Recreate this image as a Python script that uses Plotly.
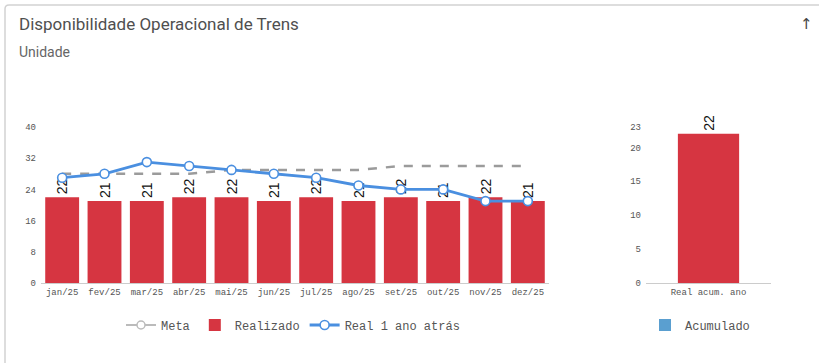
import plotly.graph_objects as go

# Monthly data
meses = ["jan/25", "fev/25", "mar/25", "abr/25", "mai/25", "jun/25",
         "jul/25", "ago/25", "set/25", "out/25", "nov/25", "dez/25"]
realizado = [22, 21, 21, 22, 22, 21, 22, 21, 22, 21, 22, 21]
meta = [28, 28, 28, 28, 29, 29, 29, 29, 30, 30, 30, 30]
real_ano_anterior = [27, 28, 31, 30, 29, 28, 27, 25, 24, 24, 21, 21]

# Year-to-date accumulated value
acum_categorias = ["Real acum. ano"]
acum_valores = [22]

# Axis ticks
ticks_mensal = [0, 8, 16, 24, 32, 40]
ticks_acum = [0, 5, 10, 15, 20, 23]

W, H = 819, 363
RED = "#d63541"
BLUE = "#4a8fe0"
GRAY = "#9b9b9b"
TXT = "#555555"
MONO = "Liberation Mono"


def px_x(v):
    return v / W


def px_y(v):
    return 1 - v / H


fig = go.Figure()

fig.add_trace(go.Bar(
    x=meses, y=realizado, name="Realizado", marker_color=RED, width=0.8,
    text=realizado, texttemplate="%{y:.0f}", textposition="outside",
    textangle=-90, cliponaxis=False,
    textfont=dict(family="Liberation Sans", size=14, color="#111111"),
    xaxis="x", yaxis="y", legend="legend", legendrank=2,
))

# Meta: dashed line, legend entry shown with a marker
fig.add_trace(go.Scatter(
    x=meses, y=meta, mode="lines", name="Meta", showlegend=False,
    line=dict(color=GRAY, width=2.5, dash="dash"),
    xaxis="x", yaxis="y", legendgroup="meta",
))
fig.add_trace(go.Scatter(
    x=[None], y=[None], mode="lines+markers", name="Meta",
    line=dict(color="#bbbbbb", width=2),
    marker=dict(size=8, color="white", line=dict(color="#bbbbbb", width=1.5)),
    xaxis="x", yaxis="y", legend="legend", legendgroup="meta", legendrank=1,
))

fig.add_trace(go.Scatter(
    x=meses, y=real_ano_anterior, mode="lines+markers", name="Real 1 ano atrás",
    line=dict(color=BLUE, width=2.8),
    marker=dict(size=9, color="white", line=dict(color=BLUE, width=1.6)),
    cliponaxis=False, xaxis="x", yaxis="y", legend="legend", legendrank=3,
))

fig.add_trace(go.Bar(
    x=acum_categorias, y=acum_valores, name="Acumulado", marker_color=RED,
    width=0.49, text=acum_valores, texttemplate="%{y:.0f}",
    textposition="outside", textangle=-90, cliponaxis=False,
    textfont=dict(family="Liberation Sans", size=14, color="#111111"),
    xaxis="x2", yaxis="y2", showlegend=False, legendgroup="acum",
))
fig.add_trace(go.Bar(
    x=[None], y=[None], name="Acumulado", marker_color="#5a9fd0",
    xaxis="x2", yaxis="y2", legend="legend2", legendgroup="acum",
))

y_dom = [px_y(283), px_y(127)]
tickfont = dict(family=MONO, size=9, color=TXT)
common_x = dict(showline=True, linecolor="#cccccc", linewidth=1,
                showgrid=False, zeroline=False, ticks="", tickfont=tickfont,
                fixedrange=True, automargin=False, type="category")
common_y = dict(showgrid=False, zeroline=False, showline=False, ticks="",
                tickfont=tickfont, fixedrange=True, automargin=False,
                ticklabelstandoff=4)

fig.update_layout(
    template="none",
    width=W, height=H,
    margin=dict(l=0, r=0, t=0, b=0, pad=0, autoexpand=False),
    paper_bgcolor="white", plot_bgcolor="white",
    barmode="overlay",
    showlegend=True,
    xaxis=dict(domain=[px_x(41), px_x(549)], anchor="y",
               range=[-0.5, len(meses) - 0.5], **common_x),
    yaxis=dict(domain=y_dom, anchor="x", range=[0, 40], tickvals=ticks_mensal,
               **common_y),
    xaxis2=dict(domain=[px_x(646), px_x(771)], anchor="y2",
                range=[-0.5, 0.5], **common_x),
    yaxis2=dict(domain=y_dom, anchor="x2", range=[0, 23], tickvals=ticks_acum,
                **common_y),
    legend=dict(orientation="h", x=px_x(293), y=px_y(325), xanchor="center",
                yanchor="middle", font=dict(family=MONO, size=12, color=TXT),
                bgcolor="rgba(0,0,0,0)", borderwidth=0, traceorder="normal"),
    legend2=dict(orientation="h", x=px_x(700), y=px_y(325), xanchor="center",
                 yanchor="middle", font=dict(family=MONO, size=12, color=TXT),
                 bgcolor="rgba(0,0,0,0)", borderwidth=0),
)

# Card title, subtitle and sort arrow
fig.add_annotation(text="Disponibilidade Operacional de Trens", xref="paper",
                   yref="paper", x=px_x(17), y=px_y(24), xanchor="left",
                   yanchor="middle", showarrow=False,
                   font=dict(family="Roboto", size=17, color="#4f4f4f"))
fig.add_annotation(text="Unidade", xref="paper", yref="paper", x=px_x(17),
                   y=px_y(52), xanchor="left", yanchor="middle", showarrow=False,
                   font=dict(family="Roboto", size=14, color="#666666"))
fig.add_annotation(text="↑", xref="paper", yref="paper", x=px_x(806),
                   y=px_y(24), xanchor="center", yanchor="middle",
                   showarrow=False,
                   font=dict(family="DejaVu Sans", size=15, color="#444444"))

# Card border (left and top edges)
r = 4
path = (f"M {px_x(5)},{px_y(H + 2)} L {px_x(5)},{px_y(5 + r)} "
        f"Q {px_x(5)},{px_y(5)} {px_x(5 + r)},{px_y(5)} L {px_x(W + 2)},{px_y(5)}")
fig.add_shape(type="path", path=path, xref="paper", yref="paper",
              line=dict(color="#d2d2d2", width=1.5))

fig.write_html("out.html")
